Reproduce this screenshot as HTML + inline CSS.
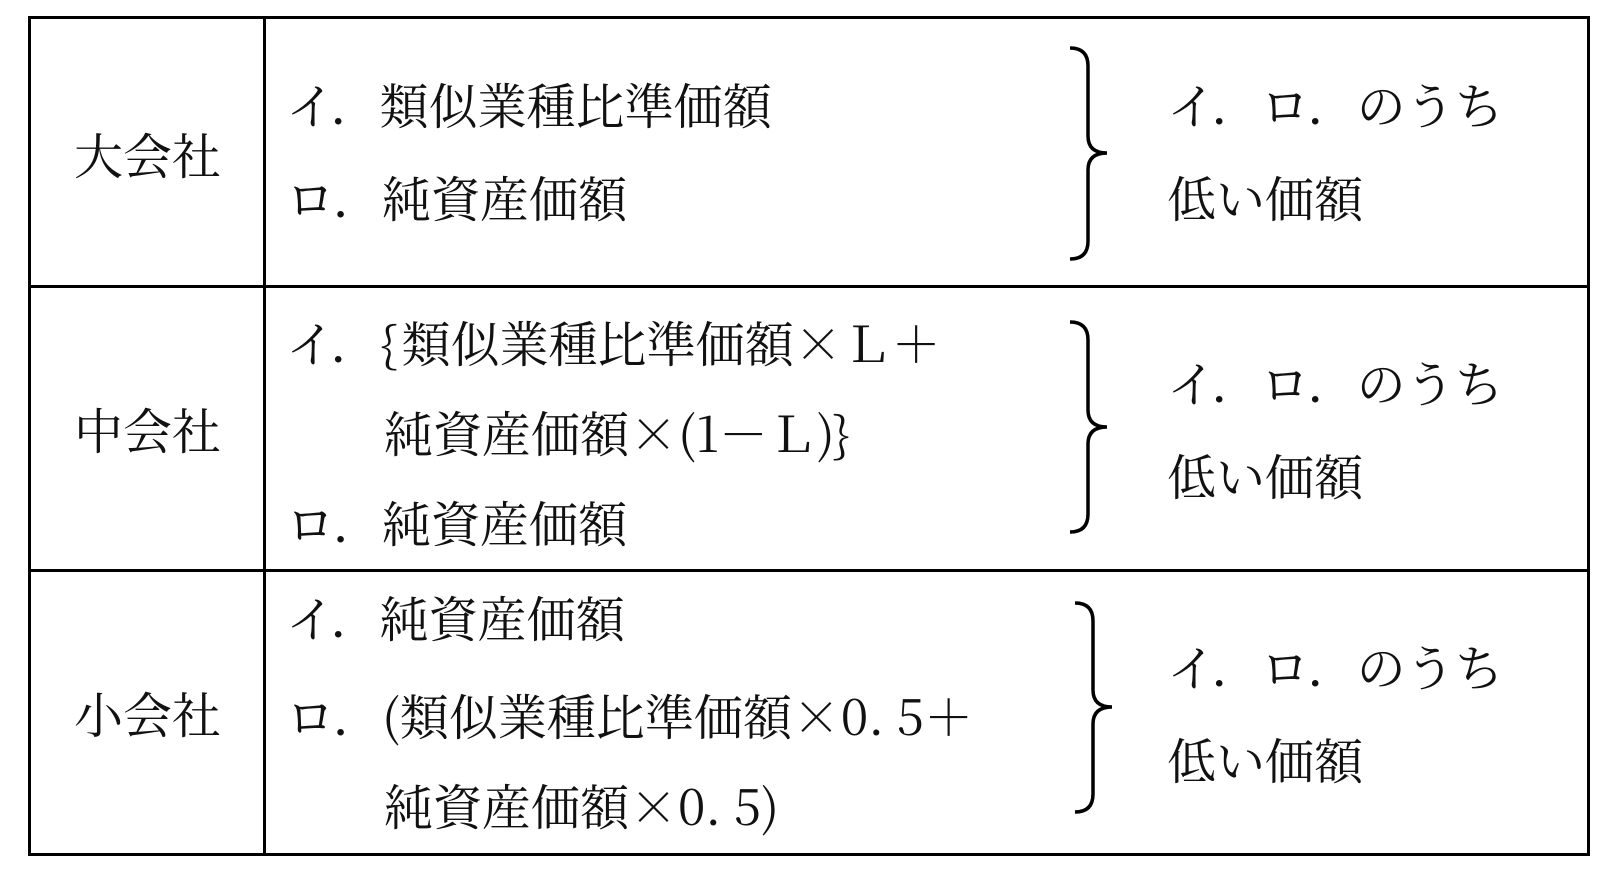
<!DOCTYPE html>
<html><head><meta charset="utf-8"><style>
body{margin:0;width:1616px;height:878px;background:#fff;position:relative;overflow:hidden;font-family:"Liberation Serif","Noto Serif CJK JP","Noto Serif CJK SC",serif;color:#111}
.t{position:absolute;font-size:49px;line-height:49px;white-space:nowrap}
.c{font-family:"Noto Serif CJK JP","Noto Serif CJK SC",serif}
.l{position:absolute;background:#000}
</style></head><body>
<div class="l" style="left:28px;top:16px;width:1562px;height:3px"></div>
<div class="l" style="left:28px;top:853px;width:1562px;height:3px"></div>
<div class="l" style="left:28px;top:16px;width:3px;height:840px"></div>
<div class="l" style="left:1587px;top:16px;width:3px;height:840px"></div>
<div class="l" style="left:263px;top:16px;width:3px;height:840px"></div>
<div class="l" style="left:28px;top:285px;width:1562px;height:3px"></div>
<div class="l" style="left:28px;top:569px;width:1562px;height:3px"></div>

<div class="t" style="left:74px;top:133px">大会社</div>
<div class="t" style="left:74px;top:408px">中会社</div>
<div class="t" style="left:74px;top:692px">小会社</div>

<div class="t" style="left:286px;top:83px">イ．類似業種比準価額</div>
<div class="t" style="left:286px;top:176px">ロ．純資産価額</div>

<div class="t" style="left:286px;top:318px">イ．<span class="c" style="display:inline-block;width:22px">{</span>類似業種比準価額<span class="c">×</span>Ｌ＋</div>
<div class="t" style="left:384px;top:408px">純資産価額<span class="c">×(1－Ｌ)}</span></div>
<div class="t" style="left:286px;top:501px">ロ．純資産価額</div>

<div class="t" style="left:286px;top:596px">イ．純資産価額</div>
<div class="t" style="left:286px;top:691px">ロ．<span class="c">(</span>類似業種比準価額<span class="c">×0. 5＋</span></div>
<div class="t" style="left:384px;top:781px">純資産価額<span class="c">×0. 5)</span></div>

<div class="t" style="left:1167px;top:83px">イ．ロ．のうち</div>
<div class="t" style="left:1167px;top:176px">低い価額</div>
<div class="t" style="left:1167px;top:361px">イ．ロ．のうち</div>
<div class="t" style="left:1167px;top:454px">低い価額</div>
<div class="t" style="left:1167px;top:645px">イ．ロ．のうち</div>
<div class="t" style="left:1167px;top:738px">低い価額</div>

<svg width="1616" height="878" style="position:absolute;left:0;top:0" fill="none" stroke="#000" stroke-width="3.5">
<path d="M1070 48 Q1088 48 1088 66 L1088 136 Q1088 153 1107 153 Q1088 153 1088 170 L1088 241 Q1088 259 1070 259"/>
<path d="M1070 322 Q1088 322 1088 340 L1088 410 Q1088 427 1107 427 Q1088 427 1088 444 L1088 514 Q1088 532 1070 532"/>
<path d="M1075 603 Q1093 603 1093 621 L1093 690 Q1093 707 1112 707 Q1093 707 1093 724 L1093 794 Q1093 812 1075 812"/>
</svg>
</body></html>
